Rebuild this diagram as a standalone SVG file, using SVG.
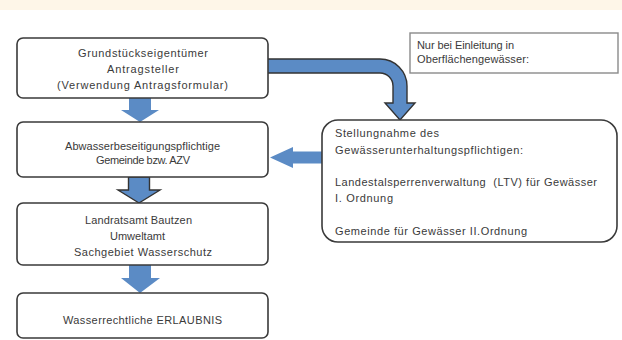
<svg xmlns="http://www.w3.org/2000/svg" width="622" height="340" viewBox="0 0 622 340">
<style>
.box{fill:#fff;stroke:#3a3a3a;stroke-width:1.6}
.note{fill:#fff;stroke:#8a8a8a;stroke-width:1.4}
.arr{fill:#5b8bc5}
.arro{fill:#5b8bc5;stroke:#333;stroke-width:1.4;stroke-linejoin:miter}
text{font-family:"Liberation Sans",Arial,sans-serif;font-size:11px;fill:#3a3a3a}
.c{text-anchor:middle}
</style>
<rect x="0" y="0" width="622" height="10" fill="#fef6e8"/>
<g id="connectors">
<path class="arro" d="M266,59 H380 A27,27 0 0 1 407,86 V103 H415 L400,120 L385,103 H393 V86 A13,13 0 0 0 380,73 H266 Z"/>
<path class="arr" d="M322,151.5 H293 V147 L270,157.5 L293,168 V163.5 H322 Z"/>
<path class="arr" d="M129,98 H151 V110 H159 L140,122 L121,110 H129 Z"/>
<path class="arro" d="M128.5,177 H149.5 V190 H160 L139,203 L118,190 H128.5 Z"/>
<path class="arr" d="M129,265 H151 V278 H160 L140,293 L121,278 H129 Z"/>
</g>
<g id="n1"><rect class="box" x="17" y="38" width="251" height="60" rx="6"/>
<text class="c" x="143" y="57" textLength="130" lengthAdjust="spacing">Grundstückseigentümer</text>
<text class="c" x="143" y="73" textLength="72" lengthAdjust="spacing">Antragsteller</text>
<text class="c" x="142.5" y="89" textLength="171" lengthAdjust="spacing">(Verwendung Antragsformular)</text></g>
<g id="n2"><rect class="box" x="17" y="122" width="251" height="55" rx="6"/>
<text class="c" x="142.5" y="149.5" textLength="155" lengthAdjust="spacing">Abwasserbeseitigungspflichtige</text>
<text class="c" x="143" y="164" textLength="94" lengthAdjust="spacing">Gemeinde bzw. AZV</text></g>
<g id="n3"><rect class="box" x="17" y="203" width="251" height="62" rx="6"/>
<text class="c" x="138.5" y="223.5" textLength="107" lengthAdjust="spacing">Landratsamt Bautzen</text>
<text class="c" x="137.5" y="239.5" textLength="55" lengthAdjust="spacing">Umweltamt</text>
<text class="c" x="143" y="255.5" textLength="138" lengthAdjust="spacing">Sachgebiet Wasserschutz</text></g>
<g id="n4"><rect class="box" x="17" y="293" width="251" height="45" rx="6"/>
<text class="c" x="142.5" y="323.5" textLength="159" lengthAdjust="spacing">Wasserrechtliche ERLAUBNIS</text></g>
<g id="note"><rect class="note" x="410" y="33" width="208" height="40"/>
<text x="417" y="48.5" textLength="97" lengthAdjust="spacing">Nur bei Einleitung in</text>
<text x="417" y="62.5" textLength="112" lengthAdjust="spacing">Oberflächengewässer:</text></g>
<g id="n5"><rect class="box" x="322" y="120" width="295" height="122" rx="16"/>
<text x="335" y="137" textLength="104" lengthAdjust="spacing">Stellungnahme des</text>
<text x="335" y="154" textLength="188" lengthAdjust="spacing">Gewässerunterhaltungspflichtigen:</text>
<text x="335" y="186" textLength="262" lengthAdjust="spacing" xml:space="preserve">Landestalsperrenverwaltung  (LTV) für Gewässer</text>
<text x="335" y="202" textLength="58" lengthAdjust="spacing">I. Ordnung</text>
<text x="335" y="235" textLength="192" lengthAdjust="spacing">Gemeinde für Gewässer II.Ordnung</text></g>
</svg>
